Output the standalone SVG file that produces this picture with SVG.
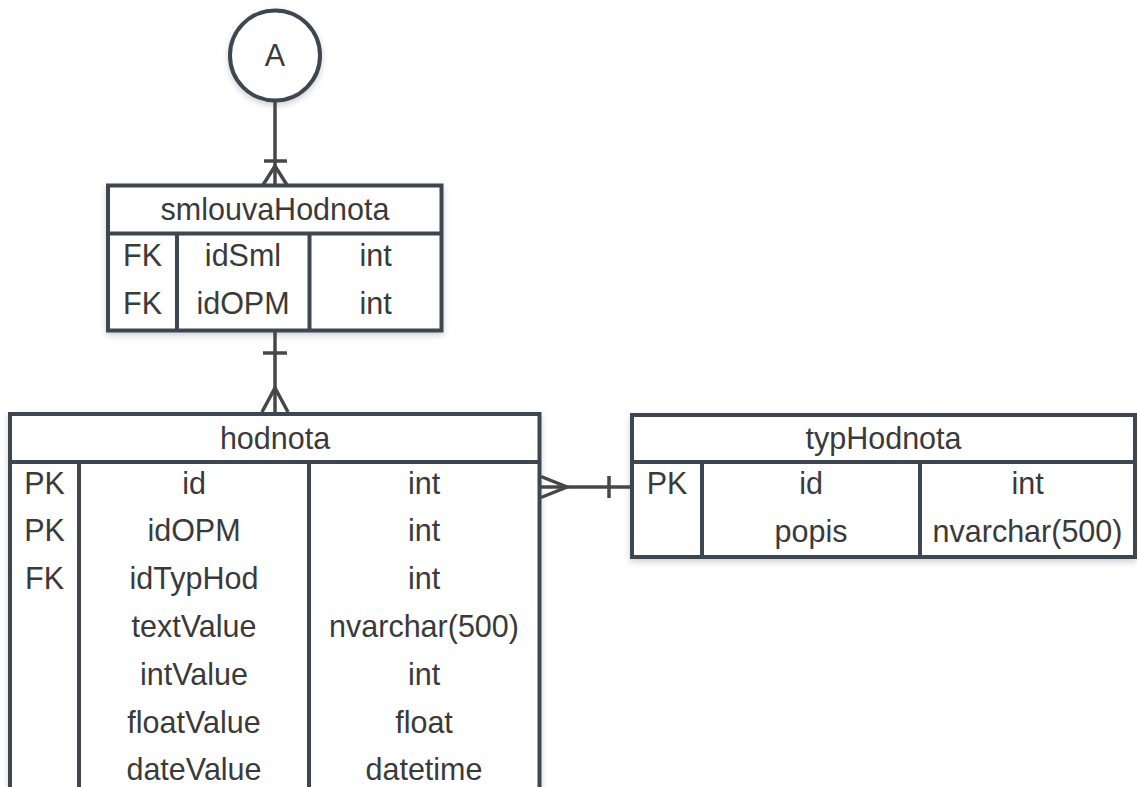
<svg xmlns="http://www.w3.org/2000/svg" width="1137" height="787" viewBox="0 0 1137 787">
<defs>
<filter id="sh" x="-10%" y="-10%" width="120%" height="130%">
<feDropShadow dx="0" dy="3" stdDeviation="3" flood-color="#000" flood-opacity="0.18"/>
</filter>
<style>
.box{fill:#fff;stroke:#3d4651;stroke-width:4;}
.ln{stroke:#3d4651;stroke-width:4;fill:none;}
.t{font-family:"Liberation Sans",Arial,sans-serif;font-size:30.5px;fill:#3a3a3a;text-anchor:middle;}
.c{stroke:#474747;stroke-width:3.5;fill:none;stroke-linejoin:miter;}
</style>
</defs>
<rect width="1137" height="787" fill="#fff"/>

<g id="node-A">
<circle cx="275" cy="55.5" r="45" fill="#fff" stroke="#3d4651" stroke-width="4" filter="url(#sh)"/>
<text class="t" x="275" y="55.5" dy="0.35em">A</text>
</g>

<g id="node-smlouvaHodnota">
<rect class="box" x="108" y="185.5" width="333.5" height="145" filter="url(#sh)"/>
<line class="ln" x1="108" y1="233.5" x2="441.5" y2="233.5"/>
<line class="ln" x1="177" y1="233.5" x2="177" y2="330.5"/>
<line class="ln" x1="309.5" y1="233.5" x2="309.5" y2="330.5"/>
<text class="t" x="275" y="209.5" dy="0.35em">smlouvaHodnota</text>
<text class="t" x="142.5" y="255" dy="0.35em">FK</text>
<text class="t" x="243" y="255" dy="0.35em">idSml</text>
<text class="t" x="375.5" y="255" dy="0.35em">int</text>
<text class="t" x="142.5" y="303" dy="0.35em">FK</text>
<text class="t" x="243" y="303" dy="0.35em">idOPM</text>
<text class="t" x="375.5" y="303" dy="0.35em">int</text>
</g>

<g id="node-hodnota">
<rect class="box" x="10" y="414" width="529.5" height="400" filter="url(#sh)"/>
<line class="ln" x1="10" y1="462" x2="539.5" y2="462"/>
<line class="ln" x1="79" y1="462" x2="79" y2="814"/>
<line class="ln" x1="309" y1="462" x2="309" y2="814"/>
<text class="t" x="275" y="438" dy="0.35em">hodnota</text>
<text class="t" x="44.5" y="483" dy="0.35em">PK</text>
<text class="t" x="194" y="483" dy="0.35em">id</text>
<text class="t" x="424" y="483" dy="0.35em">int</text>
<text class="t" x="44.5" y="530.8" dy="0.35em">PK</text>
<text class="t" x="194" y="530.8" dy="0.35em">idOPM</text>
<text class="t" x="424" y="530.8" dy="0.35em">int</text>
<text class="t" x="44.5" y="578.6" dy="0.35em">FK</text>
<text class="t" x="194" y="578.6" dy="0.35em">idTypHod</text>
<text class="t" x="424" y="578.6" dy="0.35em">int</text>
<text class="t" x="194" y="626.4" dy="0.35em">textValue</text>
<text class="t" x="424" y="626.4" dy="0.35em">nvarchar(500)</text>
<text class="t" x="194" y="674.2" dy="0.35em">intValue</text>
<text class="t" x="424" y="674.2" dy="0.35em">int</text>
<text class="t" x="194" y="722" dy="0.35em">floatValue</text>
<text class="t" x="424" y="722" dy="0.35em">float</text>
<text class="t" x="194" y="769.8" dy="0.35em">dateValue</text>
<text class="t" x="424" y="769.8" dy="0.35em">datetime</text>
</g>

<g id="node-typHodnota">
<rect class="box" x="632" y="415" width="503" height="142" filter="url(#sh)"/>
<line class="ln" x1="632" y1="462" x2="1135" y2="462"/>
<line class="ln" x1="702" y1="462" x2="702" y2="557"/>
<line class="ln" x1="920" y1="462" x2="920" y2="557"/>
<text class="t" x="883.5" y="438.5" dy="0.35em">typHodnota</text>
<text class="t" x="667" y="483" dy="0.35em">PK</text>
<text class="t" x="811" y="483" dy="0.35em">id</text>
<text class="t" x="1027.5" y="483" dy="0.35em">int</text>
<text class="t" x="811" y="531.5" dy="0.35em">popis</text>
<text class="t" x="1027.5" y="531.5" dy="0.35em">nvarchar(500)</text>
</g>

<g id="connectors">
<line class="c" x1="275" y1="102" x2="275" y2="185"/>
<line class="c" x1="264" y1="161" x2="287" y2="161"/>
<polyline class="c" points="263,185 275,166 287,185"/>
<line class="c" x1="275" y1="332" x2="275" y2="412"/>
<line class="c" x1="263" y1="353" x2="287" y2="353"/>
<polyline class="c" points="262,412 275,388 288,412"/>
<line class="c" x1="541" y1="487" x2="630" y2="487"/>
<line class="c" x1="609" y1="476" x2="609" y2="498"/>
<polyline class="c" points="541,476.5 567,487 541,497.5"/>
</g>
</svg>
